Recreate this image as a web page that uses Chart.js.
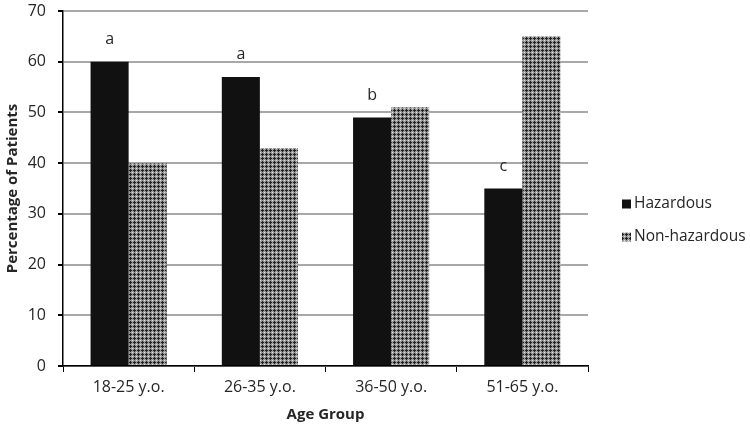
<!DOCTYPE html>
<html>
<head>
<meta charset="utf-8">
<script src="https://cdn.jsdelivr.net/npm/chart.js@4.4.1/dist/chart.umd.min.js"></script>
<style>
  html, body { margin: 0; padding: 0; background: #fff; }
  #wrap { width: 750px; height: 430px; }
</style>
</head>
<body>
<div id="wrap"><canvas id="myChart" width="750" height="430"></canvas></div>
<script>
var ageGroups = ['18-25 y.o.', '26-35 y.o.', '36-50 y.o.', '51-65 y.o.'];
var hazardous = [60, 57, 49, 35];
var nonHazardous = [40, 43, 51, 65];
var sigLetters = ['a', 'a', 'b', 'c'];
var yTicks = [0, 10, 20, 30, 40, 50, 60, 70];

// crosshatch fill like the excel pattern
function makePattern() {
    var c = document.createElement('canvas');
    c.width = 4; c.height = 4;
    var g = c.getContext('2d');
    g.fillStyle = '#989898';
    g.fillRect(0, 0, 4, 4);
    g.fillStyle = '#222222';
    g.fillRect(2, 1, 1, 3);
    g.fillRect(1, 2, 3, 1);
    g.fillStyle = '#e2e2e2';
    g.fillRect(0, 0, 1, 1);
    return g.createPattern(c, 'repeat');
}
var hatch = makePattern();

var fontFam = '"Open Sans", Lato, sans-serif';
var txtColor = '#262626';

// "a", "a", "b", "c" above the hazardous bars
var letterPlugin = {
    id: 'letters',
    afterDatasetsDraw: function(chart) {
        var ctx = chart.ctx;
        var meta = chart.getDatasetMeta(0);
        ctx.save();
        ctx.fillStyle = txtColor;
        ctx.font = '16px ' + fontFam;
        ctx.textAlign = 'center';
        ctx.textBaseline = 'middle';
        meta.data.forEach(function(bar, i) {
            ctx.fillText(sigLetters[i], bar.x, bar.y - 22);
        });
        ctx.restore();
    }
};

// legend drawn by hand, to the right of the plot
var sideLegend = {
    id: 'sideLegend',
    afterDraw: function(chart) {
        var ctx = chart.ctx;
        var x0 = chart.chartArea.right + 34;
        var yMid = 221;
        ctx.save();
        ctx.font = '15.5px ' + fontFam;
        ctx.textBaseline = 'middle';
        ctx.textAlign = 'left';
        chart.data.datasets.forEach(function(ds, i) {
            var y = yMid - 17 + i * 33;
            ctx.fillStyle = ds.backgroundColor;
            ctx.fillRect(x0, y - 4.5, 9, 9);
            ctx.fillStyle = txtColor;
            ctx.fillText(ds.label, x0 + 12, y);
        });
        ctx.restore();
    }
};

var ctx = document.getElementById('myChart');
var myChart = new Chart(ctx, {
    type: 'bar',
    data: {
        labels: ageGroups,
        datasets: [{
            label: 'Hazardous',
            data: hazardous,
            backgroundColor: '#111111',
            borderWidth: 0
        }, {
            label: 'Non-hazardous',
            data: nonHazardous,
            backgroundColor: hatch,
            borderWidth: 0
        }]
    },
    options: {
        responsive: false,
        animation: false,
        categoryPercentage: 0.58,
        barPercentage: 1.0,
        layout: { padding: { top: 11, right: 162, left: 2, bottom: 4 } },
        plugins: {
            tooltip: { enabled: false },
            legend: { display: false }
        },
        scales: {
            x: {
                afterFit: function(axis) {
                    axis.height = 60;
                    axis.paddingLeft = 0;
                    axis.paddingRight = 0;
                },
                grid: {
                    display: true,
                    drawOnChartArea: false,
                    offset: true,
                    color: '#000',
                    tickLength: 6
                },
                border: { color: '#000', width: 1.5 },
                ticks: {
                    color: txtColor,
                    padding: 6,
                    font: { size: 16, family: fontFam }
                },
                title: {
                    display: true,
                    text: 'Age Group',
                    color: txtColor,
                    padding: { top: 8, bottom: 2 },
                    font: { size: 15, weight: 'bold', family: fontFam }
                }
            },
            y: {
                min: 0,
                max: 70,
                afterBuildTicks: function(axis) {
                    axis.ticks = yTicks.map(function(v) { return { value: v }; });
                },
                afterFit: function(axis) {
                    axis.width = 61;
                    axis.paddingTop = 0;
                    axis.paddingBottom = 0;
                },
                grid: {
                    color: '#a8a8a8',
                    lineWidth: 2,
                    tickColor: '#000',
                    tickLength: 5
                },
                border: { color: '#000', width: 1.5 },
                ticks: {
                    color: txtColor,
                    padding: 12,
                    font: { size: 16, family: fontFam }
                },
                title: {
                    display: true,
                    text: 'Percentage of Patients',
                    color: txtColor,
                    padding: { top: 2, bottom: 6 },
                    font: { size: 15, weight: 'bold', family: fontFam }
                }
            }
        }
    },
    plugins: [letterPlugin, sideLegend]
});
</script>
</body>
</html>
